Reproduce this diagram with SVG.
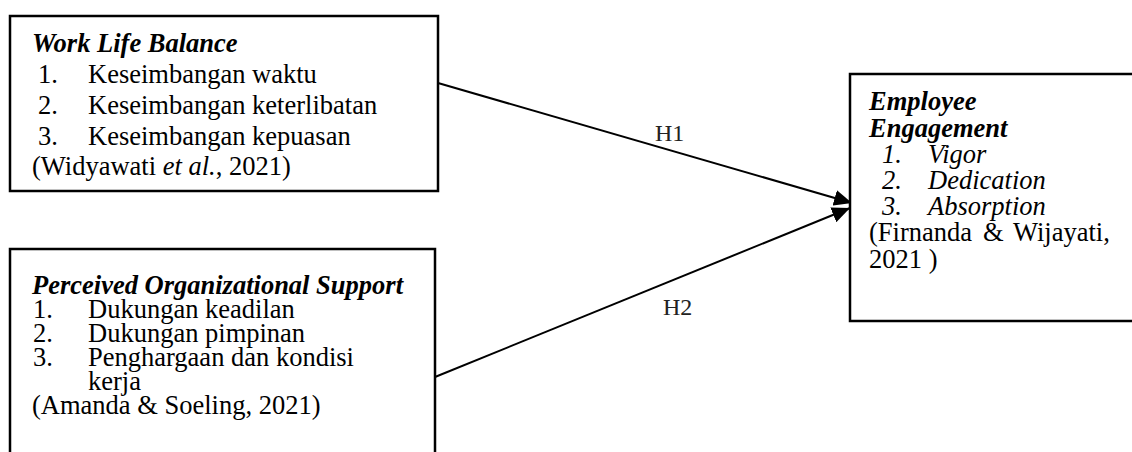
<svg xmlns="http://www.w3.org/2000/svg" width="1132" height="452" viewBox="0 0 1132 452">
<style>
.box{fill:#fff;stroke:#000;stroke-width:2.5}
.t{font-family:"Liberation Serif","Times New Roman",serif;font-size:26.5px;fill:#000}
.bi{font-weight:bold;font-style:italic}
.i{font-style:italic}
.lbl{font-family:"Liberation Serif","Times New Roman",serif;font-size:24px;fill:#222}
.edge{stroke:#000;stroke-width:2;fill:none}
</style>
<defs>
<marker id="ah" markerUnits="userSpaceOnUse" markerWidth="20" markerHeight="16" refX="18" refY="8" orient="auto">
<path d="M0,0 L18,8 L0,16 Z" fill="#000"/>
</marker>
</defs>
<rect width="1132" height="452" fill="#fff"/>
<g id="connectors">
<line class="edge" x1="438" y1="83" x2="852" y2="203" marker-end="url(#ah)"/>
<line class="edge" x1="435" y1="377" x2="850" y2="208" marker-end="url(#ah)"/>
<text class="lbl" x="655" y="141">H1</text>
<text class="lbl" x="663" y="315">H2</text>
</g>
<g id="work-life-balance">
<rect class="box" x="10" y="16" width="428" height="175"/>
<text class="t bi" x="32" y="52">Work Life Balance</text>
<text class="t" x="38" y="83">1.</text><text class="t" x="88" y="83">Keseimbangan waktu</text>
<text class="t" x="38" y="114">2.</text><text class="t" x="88" y="114">Keseimbangan keterlibatan</text>
<text class="t" x="38" y="145">3.</text><text class="t" x="88" y="145">Keseimbangan kepuasan</text>
<text class="t" x="32" y="175">(Widyawati <tspan class="i">et al.</tspan>, 2021)</text>
</g>
<g id="perceived-organizational-support">
<rect class="box" x="10" y="249" width="425" height="215"/>
<text class="t bi" x="32" y="294">Perceived Organizational Support</text>
<text class="t" x="33" y="318">1.</text><text class="t" x="88" y="318">Dukungan keadilan</text>
<text class="t" x="33" y="342">2.</text><text class="t" x="88" y="342">Dukungan pimpinan</text>
<text class="t" x="33" y="366">3.</text><text class="t" x="88" y="366">Penghargaan dan kondisi</text>
<text class="t" x="88" y="390">kerja</text>
<text class="t" x="32" y="414">(Amanda &amp; Soeling, 2021)</text>
</g>
<g id="employee-engagement">
<rect class="box" x="850" y="74" width="300" height="247"/>
<text class="t bi" x="869" y="110">Employee</text>
<text class="t bi" x="869" y="137">Engagement</text>
<text class="t i" x="882" y="163">1.</text><text class="t i" x="928" y="163">Vigor</text>
<text class="t i" x="882" y="189">2.</text><text class="t i" x="928" y="189">Dedication</text>
<text class="t i" x="882" y="215">3.</text><text class="t i" x="928" y="215">Absorption</text>
<text class="t" x="869" y="241">(Firnanda</text><text class="t" x="983" y="241">&amp;</text><text class="t" x="1013" y="241">Wijayati,</text>
<text class="t" x="869" y="268">2021 )</text>
</g>
</svg>
